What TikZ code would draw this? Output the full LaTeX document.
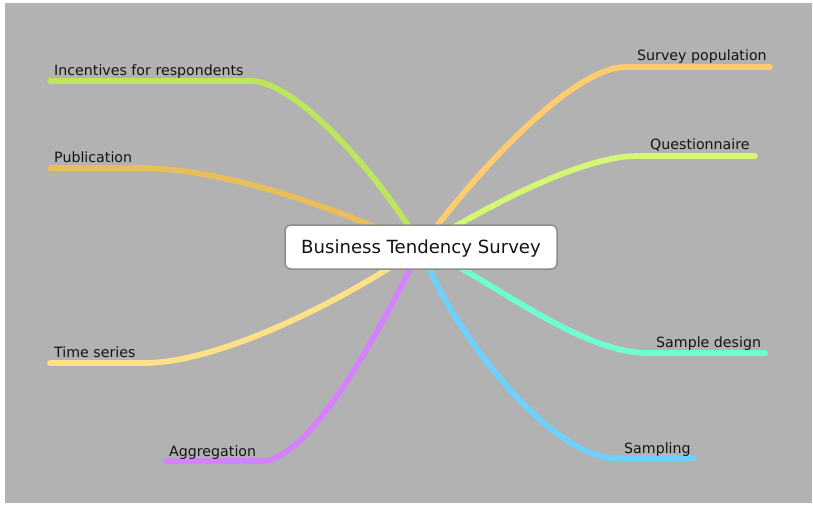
\documentclass[tikz,border=0pt]{standalone}
\usepackage{fontspec}
\setmainfont{DejaVu Sans}
\definecolor{canvas}{RGB}{178,178,178}
\definecolor{frame}{RGB}{140,140,140}
\definecolor{ink}{RGB}{20,20,20}
\definecolor{cIncent}{RGB}{190,230,90}
\definecolor{cPublic}{RGB}{232,189,90}
\definecolor{cTime}{RGB}{255,225,135}
\definecolor{cAggr}{RGB}{214,130,255}
\definecolor{cPop}{RGB}{255,205,110}
\definecolor{cQuest}{RGB}{212,248,115}
\definecolor{cDesign}{RGB}{110,255,210}
\definecolor{cSampl}{RGB}{110,210,255}
\begin{document}
\begin{tikzpicture}[x=1pt,y=-1pt,
  branch/.style={line width=5.7pt, line cap=round},
  leaf/.style={anchor=base west, inner sep=0pt, text=ink,
    font=\fontsize{14.2}{16}\selectfont},
  topic/.style={draw=frame, line width=1.5pt, fill=white, rounded corners=6pt,
    minimum width=272pt, minimum height=44pt, text height=13pt, text depth=0pt,
    text=ink, font=\fontsize{18.1}{20}\selectfont}]
\useasboundingbox (0,0) rectangle (813,505);
\fill[white] (0,0) rectangle (813,505);
\fill[canvas] (5,3) rectangle (812,503);

% hub where all branches meet
\coordinate (hubc) at (421,247);

% left-hand branches: bend point and free end
\coordinate (b1) at (251,81);  \coordinate (e1) at (50,81);
\coordinate (b2) at (140,168); \coordinate (e2) at (50,168);
\coordinate (b3) at (144,363); \coordinate (e3) at (50,363);
\coordinate (b4) at (262,461); \coordinate (e4) at (166,461);
% right-hand branches
\coordinate (b5) at (626,67);  \coordinate (e5) at (770,67);
\coordinate (b6) at (637,156); \coordinate (e6) at (755,156);
\coordinate (b7) at (648,353); \coordinate (e7) at (765,353);
\coordinate (b8) at (616,458); \coordinate (e8) at (694,458);

\draw[branch, cPublic] (hubc) .. controls (330,205) and (220,168) .. (b2) -- (e2);
\draw[branch, cTime]   (hubc) .. controls (345,300) and (220,363) .. (b3) -- (e3);
\draw[branch, cIncent] (hubc) .. controls (390,190) and (300,81) .. (b1) -- (e1);
\draw[branch, cAggr]   (hubc) .. controls (395,300) and (315,461) .. (b4) -- (e4);
\draw[branch, cQuest]  (hubc) .. controls (480,210) and (580,156) .. (b6) -- (e6);
\draw[branch, cDesign] (hubc) .. controls (495,282) and (580,353) .. (b7) -- (e7);
\draw[branch, cPop]    (hubc) .. controls (470,180) and (570,67) .. (b5) -- (e5);
\draw[branch, cSampl]  (hubc) .. controls (442,315) and (545,458) .. (b8) -- (e8);

% central topic
\node[topic] (hub) at (hubc) {Business Tendency Survey};

% branch labels
\node[leaf] (l1) at (54,76)    {Incentives for respondents};
\node[leaf] (l2) at (54,162.5) {Publication};
\node[leaf] (l3) at (54,357.5) {Time series};
\node[leaf] (l4) at (169,456)  {Aggregation};
\node[leaf] (l5) at (637,61)   {Survey population};
\node[leaf] (l6) at (650,149.5){Questionnaire};
\node[leaf] (l7) at (656,347.5){Sample design};
\node[leaf] (l8) at (624,453)  {Sampling};
\end{tikzpicture}
\end{document}
